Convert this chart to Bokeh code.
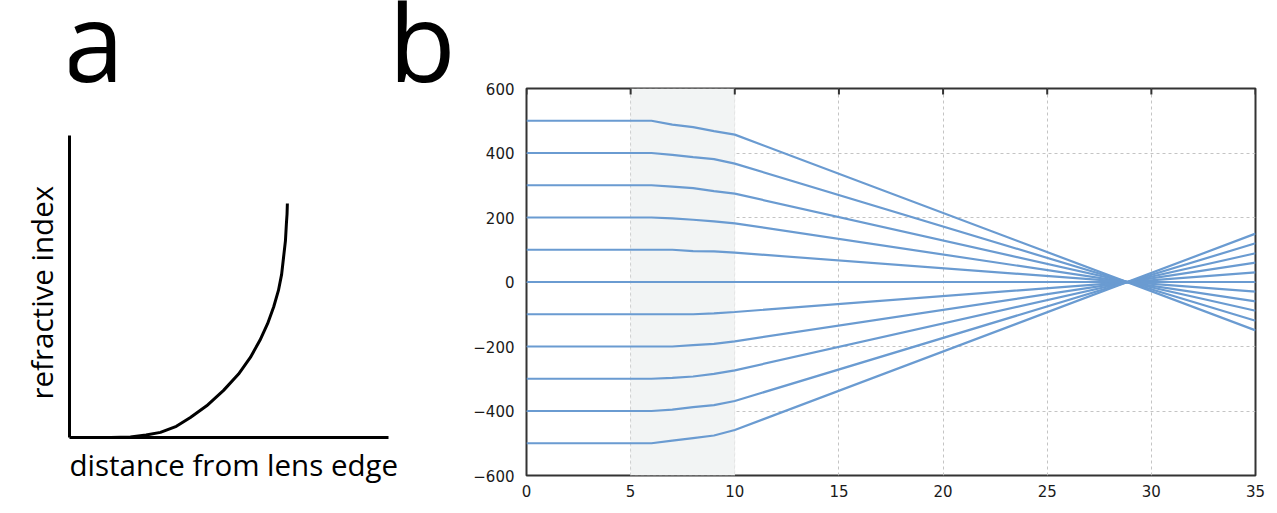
from bokeh.plotting import figure
from bokeh.layouts import row
from bokeh.models import Range1d, LinearAxis, FixedTicker, BoxAnnotation, Title
from bokeh.core.properties import value
from bokeh.embed import file_html
from bokeh.resources import INLINE

# ---------------- data ----------------
# panel a: schematic refractive-index profile (normalised axes 0..1)
profile_distance = [0.129, 0.191, 0.24, 0.285, 0.335, 0.379, 0.43, 0.483, 0.53, 0.567,
                    0.597, 0.621, 0.64, 0.655, 0.665, 0.671, 0.677, 0.680, 0.682, 0.683]
profile_index = [0.0, 0.002, 0.008, 0.017, 0.037, 0.066, 0.105, 0.156, 0.21, 0.265,
                 0.322, 0.377, 0.432, 0.487, 0.54, 0.596, 0.652, 0.709, 0.74, 0.775]
panel_letters = ["a", "b"]
label_x = "distance from lens edge"
label_y = "refractive index"

# panel b: ray traces through a gradient-index lens (lens between x=5 and x=10)
ray_x = [0, 5, 6, 7, 8, 9, 10, 35]
rays_y = [
    [500, 500, 500, 488, 480, 468, 457, -150],
    [400, 400, 400, 394, 387, 381, 367, -120],
    [300, 300, 300, 296, 291, 282, 274, -89],
    [200, 200, 200, 197, 193, 188, 182, -60],
    [100, 100, 100, 100, 96, 95, 91, -30],
    [0, 0, 0, 0, 0, 0, 0, 0],
    [-100, -100, -100, -100, -100, -97, -93, 30],
    [-200, -200, -200, -200, -196, -192, -184, 60],
    [-300, -300, -300, -297, -293, -285, -274, 89],
    [-400, -400, -400, -396, -388, -382, -369, 120],
    [-500, -500, -500, -492, -484, -476, -459, 150],
]
lens_start, lens_end = 5, 10
x_ticks = [0, 5, 10, 15, 20, 25, 30, 35]
y_ticks = [-600, -400, -200, 0, 200, 400, 600]
x_min, x_max = 0, 35
y_min, y_max = -600, 600

FONT = "Open Sans"
TICK_FONT = "DejaVu Sans"

# ---------------- panel a ----------------
pa = figure(width=470, height=513, output_backend="svg", toolbar_location=None,
            x_range=Range1d(0, 1.2571), y_range=Range1d(0, 1.447),
            min_border_left=69, min_border_right=0, min_border_top=0, min_border_bottom=76,
            x_axis_type=None, y_axis_type=None)
pa.frame_align = False
pa.outline_line_color = None
pa.grid.visible = False

common = dict(ticker=FixedTicker(ticks=[]), bounds=(0, 1),
              axis_line_width=3, axis_line_color="black",
              major_tick_in=0, major_tick_out=0, minor_tick_in=0, minor_tick_out=0)
pa.add_layout(LinearAxis(**common), "below")
pa.add_layout(LinearAxis(**common), "left")

title_style = dict(text_font=FONT, text_font_size="29.5px", text_font_style="normal",
                   text_color="black", align="left")
pa.add_layout(Title(text=label_x, offset=0, standoff=8, **title_style), "below")
pa.add_layout(Title(text=label_y, offset=38, standoff=15, **title_style), "left")

pa.line(profile_distance, profile_index, line_color="black", line_width=3)

pa.text(x=[-0.0204, 1.0], y=[1.318, 1.318], text=panel_letters,
        text_font=value(FONT), text_font_size=value("110px"),
        text_baseline="alphabetic", text_align="left", text_color="black")

# ---------------- panel b ----------------
pb = figure(width=807, height=513, output_backend="svg", toolbar_location=None,
            x_range=Range1d(x_min, x_max), y_range=Range1d(y_min, y_max),
            min_border_left=54, min_border_right=22, min_border_top=88, min_border_bottom=38)
pb.frame_align = False
pb.outline_line_color = "#333333"
pb.outline_line_width = 2

pb.xaxis.ticker = FixedTicker(ticks=x_ticks)
pb.yaxis.ticker = FixedTicker(ticks=y_ticks)
for ax in (pb.xaxis[0], pb.yaxis[0]):
    ax.axis_line_color = None
    ax.major_tick_in = 0
    ax.major_tick_out = 0
    ax.minor_tick_in = 0
    ax.minor_tick_out = 0
    ax.major_label_text_font = TICK_FONT
    ax.major_label_text_font_size = "15px"
    ax.major_label_text_color = "#1a1a1a"
pb.xaxis.major_label_standoff = 9
pb.yaxis.major_label_standoff = 12

pb.xgrid.ticker = FixedTicker(ticks=x_ticks)
pb.ygrid.ticker = FixedTicker(ticks=y_ticks)
pb.grid.grid_line_color = "#c4c4c4"
pb.grid.grid_line_dash = "3 3"
pb.grid.grid_line_width = 1

pb.add_layout(BoxAnnotation(left=lens_start, right=lens_end, fill_color="#f2f4f4",
                            fill_alpha=1.0, line_color="#c4c4c4", line_dash="3 3",
                            line_width=1, level="underlay"))

# inward tick marks along the top edge (half of each dash is clipped by the frame)
pb.scatter(x=x_ticks, y=[y_max] * len(x_ticks), marker="dash", angle=1.5708,
           size=12, line_color="#333333", line_width=2)

for ys in rays_y:
    pb.line(ray_x, ys, line_color="#6a9bd1", line_width=2.2)

layout = row(pa, pb)
open("out.html", "w").write(file_html(layout, INLINE))
